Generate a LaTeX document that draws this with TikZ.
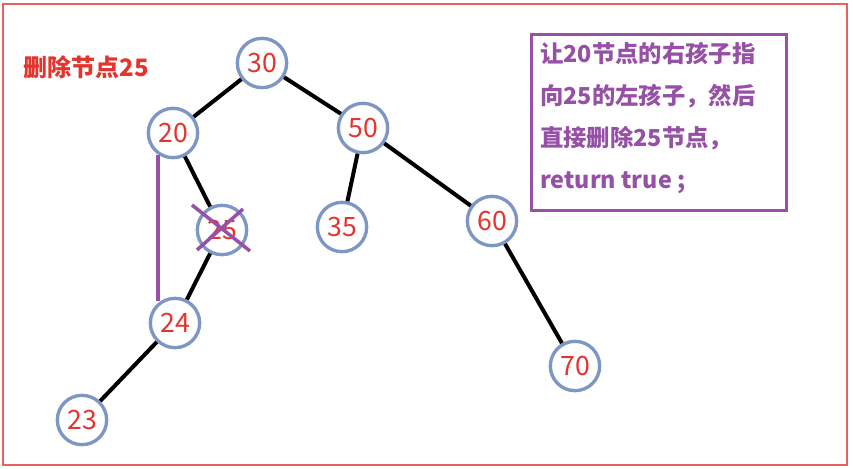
\documentclass[tikz,border=0pt]{standalone}
\usepackage{fontspec}
\setmainfont{Noto Sans CJK SC}
\usetikzlibrary{calc}
\definecolor{numred}{RGB}{228,52,46}
\definecolor{ringblue}{RGB}{125,150,196}
\definecolor{delpurple}{RGB}{150,80,165}
\definecolor{framered}{RGB}{232,96,96}

\begin{document}
\begin{tikzpicture}[
    x=0.75pt, y=-0.75pt, % 以像素為單位, y 向下
    % 定義通用樣式
    treenode/.style={
        circle,
        draw=ringblue,
        line width=2.5pt,
        fill=white,
        minimum size=37pt,
        inner sep=0pt,
        text=numred,
        font=\fontsize{20}{20}\selectfont
    },
    edge/.style={
        line width=3pt,
        black
    },
    del line/.style={
        line width=2.6pt,
        delpurple
    },
    notebox/.style={
        draw=delpurple,
        line width=2.4pt,
        minimum width=191pt,
        minimum height=132pt
    },
    notetext/.style={
        align=left,
        inner sep=0pt,
        text=delpurple,
        font=\fontsize{17.5}{31.5}\selectfont\bfseries
    }
]
    \useasboundingbox (0,0) rectangle (853,468);

    % --- 1. 外框 ---
    \draw[framered, line width=1.3pt] (3,4) rectangle (847,465);

    % --- 2. 標題 ---
    \node[anchor=west, text=numred, font=\fontsize{18}{18}\selectfont\bfseries] (title) at (19,67) {删除节点25};

    % --- 3. 樹的節點 ---
    \node[treenode] (n30) at (262,63) {30};
    \node[treenode] (n20) at (173,133) {20};
    \node[treenode] (n50) at (363,128) {50};
    \node[treenode] (n25) at (222,230) {25};
    \node[treenode] (n35) at (342,227) {35};
    \node[treenode] (n60) at (492,221) {60};
    \node[treenode] (n24) at (175,323) {24};
    \node[treenode] (n23) at (82,420) {23};
    \node[treenode] (n70) at (575,366) {70};

    % --- 4. 連線 ---
    \draw[edge] (n30) -- (n20);
    \draw[edge] (n30) -- (n50);
    \draw[edge] (n20) -- (n25);
    \draw[edge] (n50) -- (n35);
    \draw[edge] (n50) -- (n60);
    \draw[edge] (n25) -- (n24);
    \draw[edge] (n24) -- (n23);
    \draw[edge] (n60) -- (n70);

    % 20 的右孩子改指向 24
    \draw[del line] (n20.235) -- (n20.235 |- n24.125);

    % 刪除 25 (打叉)
    \draw[del line] ($(n25.center)+(-30,-25)$) -- ($(n25.center)+(28,21)$);
    \draw[del line] ($(n25.center)+(-25,20)$) -- ($(n25.center)+(21,-21)$);

    % --- 5. 說明方塊 ---
    \node[notebox, anchor=north west] (note) at (530,33) {};
    \node[notetext, anchor=north west] (notetext) at ($(note.north west)+(10,9)$)
        {让20节点的右孩子指\\向25的左孩子，然后\\直接删除25节点，\\return true ;};

\end{tikzpicture}
\end{document}
